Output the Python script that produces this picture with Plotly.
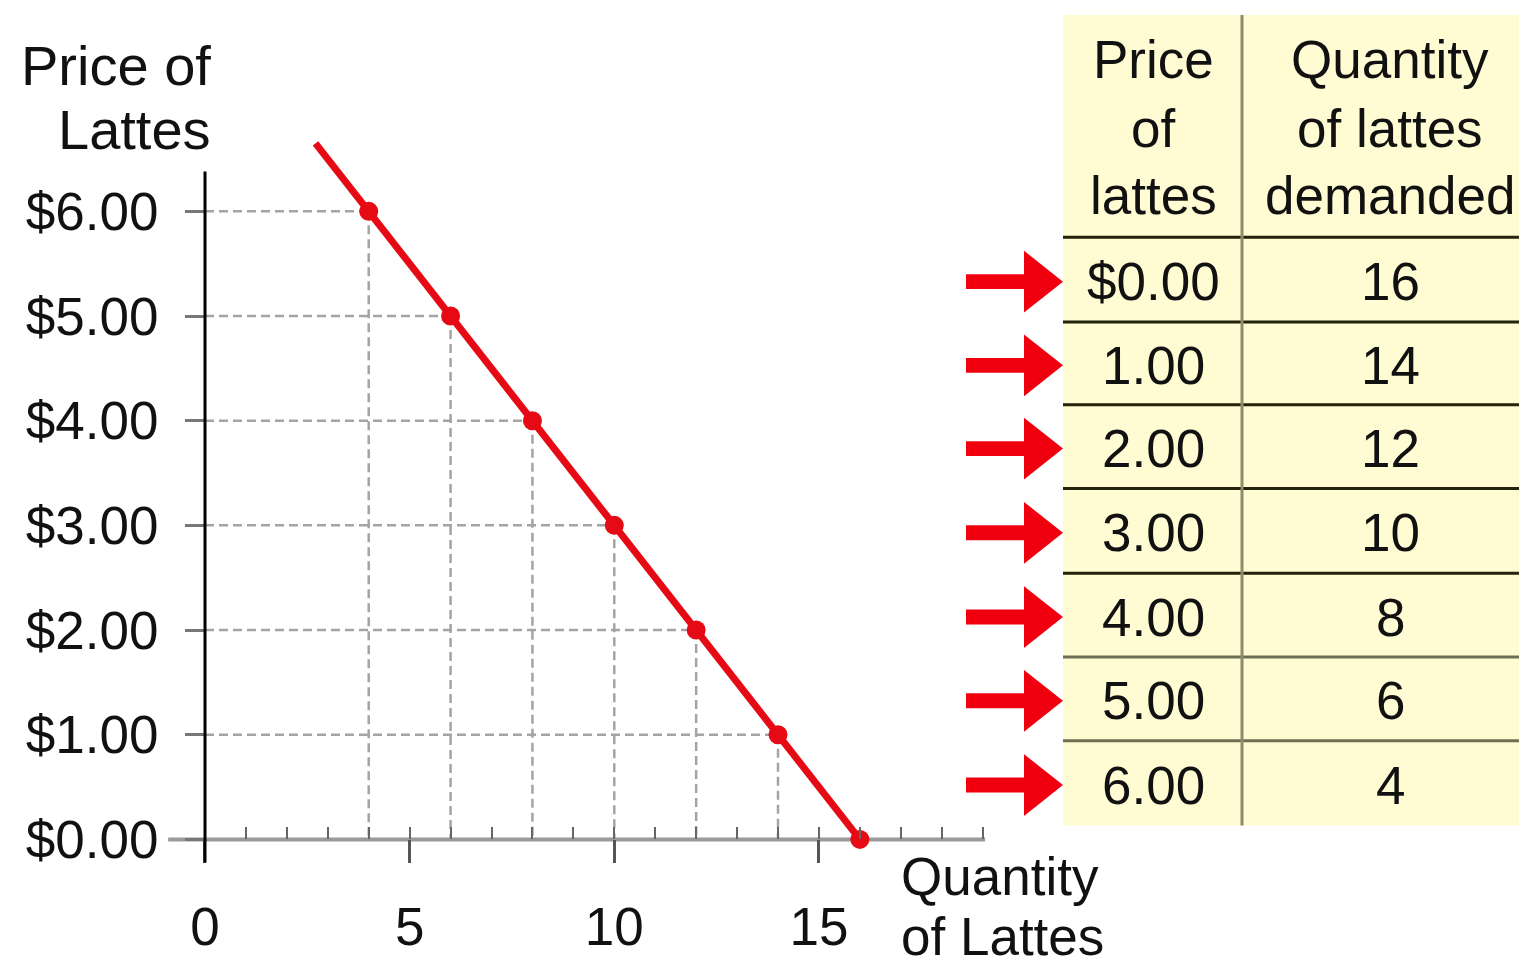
import plotly.graph_objects as go

W, H = 1519, 969

# ---------------- data ----------------
prices = [0, 1, 2, 3, 4, 5, 6]
quantities = [16, 14, 12, 10, 8, 6, 4]
price_labels = ["$0.00", "1.00", "2.00", "3.00", "4.00", "5.00", "6.00"]
y_tick_vals = [0, 1, 2, 3, 4, 5, 6]
y_tick_text = ["$0.00", "$1.00", "$2.00", "$3.00", "$4.00", "$5.00", "$6.00"]
x_tick_vals = [0, 5, 10, 15]
x_tick_text = ["0", "5", "10", "15"]
curve_q = [2.7, 16]
curve_p = [6.65, 0]
header_price = ["Price", "of", "lattes"]
header_qty = ["Quantity", "of lattes", "demanded"]
y_title = ["Price of", "Lattes"]
x_title = ["Quantity", "of Lattes"]

# ---------------- geometry helpers (screen pixels) ----------------
X0, SX = 205.0, 40.93   # pixel of x=0, pixels per unit
Y0, SY = 842.0, 105.0   # pixel of y=0, pixels per unit
xr = [-0.95, 19.5]
yr = [-0.25, 6.75]


def pxx(x):
    return x / W


def pxy(y):
    return 1 - y / H


xdom = [pxx(X0 + SX * xr[0]), pxx(X0 + SX * xr[1])]
ydom = [pxy(Y0 - SY * yr[0]), pxy(Y0 - SY * yr[1])]

FONT = "Liberation Sans, Arial, sans-serif"
RED = "#E60A14"
TXT = "#111111"

fig = go.Figure()

# dashed drop lines built from the data
gx, gy = [], []
for q, p in zip(quantities, prices):
    if p > 0:
        gx += [0, q, None]
        gy += [p, p, None]
        gx += [q, q, None]
        gy += [p, 0, None]
fig.add_trace(go.Scatter(x=gx, y=gy, mode="lines",
                         line=dict(color="#A4A4A4", width=2.5, dash="9px,5px"),
                         hoverinfo="skip", showlegend=False))

# demand curve
fig.add_trace(go.Scatter(x=curve_q, y=curve_p, mode="lines",
                         line=dict(color=RED, width=7),
                         showlegend=False))
fig.add_trace(go.Scatter(x=quantities, y=prices, mode="markers",
                         marker=dict(color=RED, size=19, symbol="circle"),
                         cliponaxis=False, showlegend=False))

shapes = []
# axis lines
shapes.append(dict(type="line", xref="x", yref="y", x0=-0.9, x1=19.06, y0=0, y1=0,
                   line=dict(color="#9A9A9A", width=4), layer="below"))
shapes.append(dict(type="line", xref="x", yref="y", x0=0, x1=0, y0=-0.22, y1=6.38,
                   line=dict(color="#000000", width=3), layer="above"))

# table background
T_LEFT, T_RIGHT, T_TOP, T_BOT, T_DIV = 1063, 1519, 15, 828, 1242
shapes.append(dict(type="rect", xref="paper", yref="paper",
                   x0=pxx(T_LEFT), x1=pxx(T_RIGHT), y0=pxy(T_BOT), y1=pxy(T_TOP),
                   fillcolor="#FFFBD2", line=dict(width=0), layer="below"))
row_lines = [238, 323, 406, 490, 575, 659, 743]
row_bounds = row_lines + [T_BOT]
for i, yl in enumerate(row_lines):
    col = "#23230C" if i < 5 else "#6E6E52"
    shapes.append(dict(type="line", xref="paper", yref="paper",
                       x0=pxx(T_LEFT), x1=pxx(T_RIGHT), y0=pxy(yl), y1=pxy(yl),
                       line=dict(color=col, width=3)))
shapes.append(dict(type="line", xref="paper", yref="paper",
                   x0=pxx(T_DIV), x1=pxx(T_DIV), y0=pxy(T_BOT), y1=pxy(T_TOP),
                   line=dict(color="#8C8C70", width=3)))

annotations = []
# arrows and row text
for i in range(len(prices)):
    yc = (row_bounds[i] + row_bounds[i + 1]) / 2
    ya = yc + 2
    pts = [(966, ya - 7.5), (1024, ya - 7.5), (1024, ya - 31), (1063, ya),
           (1024, ya + 31), (1024, ya + 7.5), (966, ya + 7.5)]
    path = "M " + " L ".join(f"{pxx(a):.5f},{pxy(b):.5f}" for a, b in pts) + " Z"
    shapes.append(dict(type="path", xref="paper", yref="paper", path=path,
                       fillcolor="#F0000E", line=dict(width=0)))
    annotations.append(dict(x=pxx(1153), y=pxy(yc + 2), xref="paper", yref="paper",
                            text=price_labels[i], showarrow=False,
                            xanchor="center", yanchor="middle",
                            font=dict(family=FONT, size=53, color=TXT)))
    annotations.append(dict(x=pxx(1390), y=pxy(yc + 2), xref="paper", yref="paper",
                            text=str(quantities[i]), showarrow=False,
                            xanchor="center", yanchor="middle",
                            font=dict(family=FONT, size=53, color=TXT)))

# header text
for j, yc in enumerate([60, 129, 196]):
    annotations.append(dict(x=pxx(1153), y=pxy(yc), xref="paper", yref="paper",
                            text=header_price[j], showarrow=False,
                            xanchor="center", yanchor="middle",
                            font=dict(family=FONT, size=53, color=TXT)))
    annotations.append(dict(x=pxx(1390), y=pxy(yc), xref="paper", yref="paper",
                            text=header_qty[j], showarrow=False,
                            xanchor="center", yanchor="middle",
                            font=dict(family=FONT, size=53, color=TXT)))

# axis titles
for j, yc in enumerate([66, 130]):
    annotations.append(dict(x=pxx(213), y=pxy(yc), xref="paper", yref="paper",
                            text=y_title[j], showarrow=False,
                            xanchor="right", yanchor="middle",
                            font=dict(family=FONT, size=56, color=TXT)))
for j, yc in enumerate([879, 939]):
    annotations.append(dict(x=pxx(899), y=pxy(yc), xref="paper", yref="paper",
                            text=x_title[j], showarrow=False,
                            xanchor="left", yanchor="middle",
                            font=dict(family=FONT, size=53, color=TXT)))

fig.update_layout(
    width=W, height=H,
    margin=dict(l=0, r=0, t=0, b=0),
    paper_bgcolor="white", plot_bgcolor="rgba(0,0,0,0)",
    showlegend=False,
    shapes=shapes,
    annotations=annotations,
    xaxis=dict(range=xr, domain=xdom, anchor="free", position=pxy(Y0),
               showgrid=False, zeroline=False, showline=False,
               tickmode="array", tickvals=x_tick_vals, ticktext=x_tick_text,
               ticks="outside", ticklen=23, tickwidth=3, tickcolor="#555555",
               ticklabelstandoff=18,
               minor=dict(ticks="inside", tickmode="linear", tick0=0, dtick=1,
                          ticklen=12, tickwidth=2, tickcolor="#666666", showgrid=False),
               tickfont=dict(family=FONT, size=53, color=TXT)),
    yaxis=dict(range=yr, domain=ydom, anchor="free", position=pxx(X0),
               showgrid=False, zeroline=False, showline=False,
               tickmode="array", tickvals=y_tick_vals, ticktext=y_tick_text,
               ticks="outside", ticklen=20, tickwidth=3, tickcolor="#777777",
               ticklabelstandoff=16,
               tickfont=dict(family=FONT, size=53, color=TXT)),
)

fig.write_html("out.html",
               config={"displayModeBar": False},
               post_script="document.body.style.margin='0px';"
                           "document.body.style.overflow='hidden';")
